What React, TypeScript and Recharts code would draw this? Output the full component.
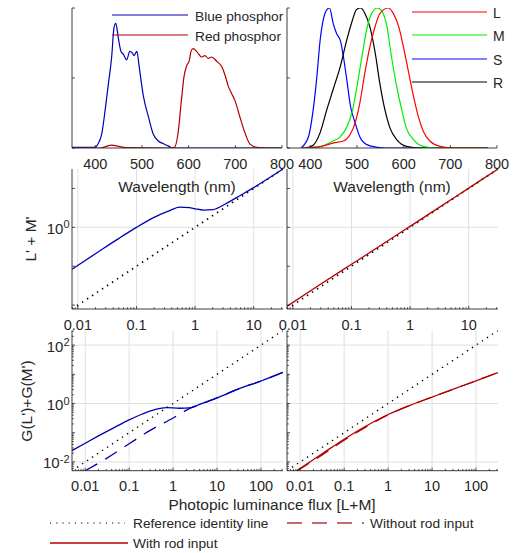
import React from "react";
import { LineChart, Line, XAxis, YAxis, ReferenceLine } from "recharts";

const W = 516;
const H = 553;
const INK = "#262626";
const GRID = "#e0e0e0";
const FONT = "'Liberation Sans', Arial, Helvetica, sans-serif";
const DARK_BLUE = "#0000b3";
const DARK_RED = "#b30000";
const DASHES = "14 9";
const X_AXIS_H = 30;
const Y_AXIS_W = 50;

// ---- top left: phosphor emission spectra (wavelength in nm, relative power)
const bluePhosphorWl = [350, 370, 390, 400, 406, 414, 421, 428, 435, 440, 444, 449, 455, 460, 467, 474, 479, 483, 489, 494, 503, 514, 524, 535, 546, 556, 565, 600, 700, 800];
const bluePhosphor = [0.004, 0.005, 0.004, 0.006, 0.03, 0.105, 0.27, 0.46, 0.65, 0.86, 0.89, 0.79, 0.69, 0.67, 0.63, 0.69, 0.68, 0.66, 0.69, 0.58, 0.37, 0.22, 0.1, 0.05, 0.03, 0.015, 0, 0, 0, 0];
const redPhosphorWl = [350, 410, 420, 435, 450, 465, 560, 569, 577, 585, 590, 596, 601, 606, 610, 617, 628, 635, 642, 649, 660, 671, 678, 685, 692, 699, 710, 721, 731, 746, 770, 800];
const redPhosphor = [0, 0, 0.008, 0.02, 0.012, 0.002, 0, 0.003, 0.1, 0.36, 0.51, 0.59, 0.62, 0.7, 0.71, 0.69, 0.65, 0.66, 0.64, 0.65, 0.62, 0.58, 0.52, 0.44, 0.39, 0.34, 0.22, 0.105, 0.03, 0.005, 0, 0];

// ---- top right: photoreceptor sensitivities
const coneLWl = [380, 421, 449, 471, 485, 496, 506, 517, 528, 539, 549, 567, 578, 589, 599, 610, 621, 631, 642, 656, 678, 706, 780];
const coneL = [0, 0.01, 0.035, 0.05, 0.095, 0.18, 0.32, 0.54, 0.73, 0.87, 0.96, 1.0, 0.96, 0.87, 0.73, 0.55, 0.37, 0.23, 0.12, 0.05, 0.012, 0, 0];
const coneMWl = [380, 421, 449, 464, 478, 489, 499, 510, 521, 531, 544, 553, 564, 574, 585, 596, 606, 621, 642, 671, 780];
const coneM = [0, 0.01, 0.05, 0.08, 0.15, 0.25, 0.42, 0.64, 0.85, 0.96, 1.0, 0.98, 0.87, 0.65, 0.44, 0.27, 0.14, 0.06, 0.012, 0, 0];
const coneSWl = [380, 396, 406, 414, 421, 428, 436, 441, 449, 456, 465, 471, 478, 486, 496, 506, 521, 543, 564, 780];
const coneS = [0, 0.08, 0.27, 0.51, 0.77, 0.92, 0.99, 1.0, 0.89, 0.82, 0.76, 0.65, 0.49, 0.3, 0.18, 0.08, 0.024, 0.005, 0, 0];
const rodWl = [380, 392, 406, 421, 435, 449, 464, 478, 489, 499, 508, 517, 528, 539, 549, 560, 571, 585, 606, 635, 780];
const rod = [0, 0.003, 0.02, 0.11, 0.27, 0.42, 0.58, 0.77, 0.9, 0.99, 1.0, 0.96, 0.86, 0.68, 0.46, 0.27, 0.14, 0.06, 0.012, 0, 0];

// ---- middle row: L' + M' against photopic flux
const midIdentity = [0.00794, 31.62];
const midBlueFlux = [0.00794, 0.02, 0.05, 0.1, 0.2, 0.35, 0.55, 0.8, 1.0, 1.4, 2.0, 3.5, 6, 10, 20, 31.62];
const midBlue = [0.084, 0.21, 0.52, 1.0, 1.8, 2.6, 3.3, 3.2, 3.0, 2.78, 2.85, 4.2, 6.7, 10.5, 20.2, 31.62];
const midRedFlux = [0.00794, 0.03, 0.1, 0.3, 1, 3, 10, 31.62];
const midRed = [0.0093, 0.035, 0.112, 0.325, 1.06, 3.12, 10.2, 31.62];

// ---- bottom row: G(L') + G(M')
const lowIdentity = [0.00501, 316.2];
const lowBlueFlux = [0.00501, 0.01, 0.02, 0.05, 0.1, 0.2, 0.4, 0.7, 1.4, 2.6, 4, 10, 30, 100, 316.2];
const lowBlue = [0.0245, 0.0437, 0.0776, 0.162, 0.275, 0.437, 0.63, 0.72, 0.69, 0.72, 0.93, 1.55, 3.1, 5.9, 11.7];
const lowBlueNoRodFlux = [0.01, 0.03, 0.1, 0.3, 1, 2.6, 4, 10, 30, 100, 316.2];
const lowBlueNoRod = [0.005, 0.013, 0.042, 0.12, 0.32, 0.72, 0.93, 1.55, 3.1, 5.9, 11.7];
const lowRedFlux = [0.0083, 0.0316, 0.1, 0.316, 1, 3.16, 10, 31.6, 100, 316.2];
const lowRed = [0.005, 0.019, 0.06, 0.17, 0.42, 0.87, 1.66, 3.16, 6.0, 11.5];
const lowRedNoRodFlux = [0.0086, 0.0316, 0.1, 0.316, 1, 3.16, 10, 31.6, 100, 316.2];
const lowRedNoRod = [0.005, 0.0175, 0.055, 0.158, 0.41, 0.87, 1.66, 3.16, 6.0, 11.5];

const wavelengthTicks = [400, 500, 600, 700, 800];
const unitTicks = [0, 0.5, 1];
const fluxLabels = [0.01, 0.1, 1, 10, 100];

const pairs = (xs: number[], ys: number[]) => xs.map((x, i) => ({ x, y: ys[i] }));

const isDecade = (v: number) => Math.abs(Math.log10(v) - Math.round(Math.log10(v))) < 1e-6;

// every 1..9 x 10^k inside the range, for MATLAB-style minor ticks
const logTicks = (lo: number, hi: number) => {
  const out: number[] = [];
  for (let k = -3; k <= 3; k++) {
    for (let m = 1; m <= 9; m++) {
      const v = Number((m * Math.pow(10, k)).toPrecision(3));
      if (v >= lo && v <= hi) out.push(v);
    }
  }
  return out;
};
const decadeTicks = (lo: number, hi: number) => logTicks(lo, hi).filter(isDecade);

type Box = { l: number; r: number; t: number; b: number };

const BOX: Record<string, Box> = {
  tl: { l: 72, r: 282, t: 8, b: 148 },
  tr: { l: 287, r: 497, t: 8, b: 148 },
  ml: { l: 72, r: 283, t: 169, b: 309 },
  mr: { l: 287, r: 498, t: 169, b: 309 },
  bl: { l: 72, r: 283, t: 330.5, b: 470.7 },
  br: { l: 287, r: 498, t: 330.5, b: 470.7 },
};

const xTick = (log: boolean, labels: boolean) => (p: any) => {
  const v = p.payload.value as number;
  const major = !log || isDecade(v);
  return (
    <g>
      <line x1={p.x} x2={p.x} y1={p.y} y2={p.y - (major ? 3 : 1.8)} stroke={INK} strokeWidth={0.8} />
      {labels && major ? (
        <text x={p.x} y={p.y + 20.5} textAnchor="middle" fontFamily={FONT} fontSize={14.5} fill={INK}>
          {String(v)}
        </text>
      ) : null}
    </g>
  );
};

const yTick = (log: boolean, labels: number[]) => (p: any) => {
  const v = p.payload.value as number;
  const major = !log || isDecade(v);
  return (
    <g>
      <line x1={p.x} x2={p.x + (major ? 3 : 1.8)} y1={p.y} y2={p.y} stroke={INK} strokeWidth={0.8} />
      {labels.includes(v) ? (
        <text x={p.x - 2.5} y={p.y + 6.5} textAnchor="end" fontFamily={FONT} fontSize={15} fill={INK}>
          10
          <tspan dy={-5.5} fontSize={11}>
            {Math.round(Math.log10(v))}
          </tspan>
        </text>
      ) : null}
    </g>
  );
};

function Panel(props: {
  box: Box;
  xDomain: [number, number];
  yDomain: [number, number];
  log?: boolean;
  xTicks: number[];
  yTicks: number[];
  xLabels: boolean;
  yLabels: number[];
  gridX?: number[];
  gridY?: number[];
  children: React.ReactNode;
}) {
  const { box, log = false } = props;
  const scale = log ? "log" : "linear";
  return (
    <div style={{ position: "absolute", left: 0, top: 0 }}>
      <LineChart
        width={W}
        height={H}
        margin={{ left: box.l - Y_AXIS_W, top: box.t, right: W - box.r, bottom: H - box.b - X_AXIS_H }}
      >
        <XAxis
          type="number"
          dataKey="x"
          scale={scale}
          domain={props.xDomain}
          allowDataOverflow
          ticks={props.xTicks}
          interval={0}
          height={X_AXIS_H}
          tickSize={0}
          tickMargin={0}
          tickLine={false}
          axisLine={{ stroke: INK, strokeWidth: 0.9 }}
          tick={xTick(log, props.xLabels)}
        />
        <YAxis
          type="number"
          dataKey="y"
          scale={scale}
          domain={props.yDomain}
          allowDataOverflow
          ticks={props.yTicks}
          interval={0}
          width={Y_AXIS_W}
          tickSize={0}
          tickMargin={0}
          tickLine={false}
          axisLine={{ stroke: INK, strokeWidth: 0.9 }}
          tick={yTick(log, props.yLabels)}
        />
        {(props.gridX || []).map((v) => (
          <ReferenceLine key={"gx" + v} x={v} stroke={GRID} strokeWidth={1} zIndex={-50} />
        ))}
        {(props.gridY || []).map((v) => (
          <ReferenceLine key={"gy" + v} y={v} stroke={GRID} strokeWidth={1} zIndex={-50} />
        ))}
        {props.children}
      </LineChart>
    </div>
  );
}

const series = (key: string, data: { x: number; y: number }[], stroke: string, extra: any = {}) => (
  <Line
    key={key}
    data={data}
    dataKey="y"
    type="monotone"
    stroke={stroke}
    strokeWidth={1.2}
    dot={false}
    activeDot={false}
    isAnimationActive={false}
    {...extra}
  />
);

const dotted = (key: string, pts: number[], width: number) =>
  series(key, pairs(pts, pts), "#000", { type: "linear", strokeDasharray: "1.4 4.6", strokeWidth: width });

export default function App() {
  const midDomain: [number, number] = [midIdentity[0], midIdentity[1]];
  const lowDomain: [number, number] = [lowIdentity[0], lowIdentity[1]];
  const midX = logTicks(midDomain[0], midDomain[1]);
  const midY = decadeTicks(midDomain[0], midDomain[1]);
  const lowX = logTicks(lowDomain[0], lowDomain[1]);
  const lowY = logTicks(lowDomain[0], lowDomain[1]);
  const midGridX = fluxLabels.filter((v) => v >= midDomain[0] && v <= midDomain[1]);
  const lowGridY = [0.01, 1, 100];
  const txt = { fontFamily: FONT, fill: INK };

  return (
    <div style={{ position: "absolute", left: 0, top: 0, width: W, height: H, background: "#fff" }}>
      <Panel box={BOX.tl} xDomain={[350, 800]} yDomain={[0, 1]} xTicks={wavelengthTicks} yTicks={unitTicks} xLabels yLabels={[]}>
        {series("bp", pairs(bluePhosphorWl, bluePhosphor), DARK_BLUE)}
        {series("rp", pairs(redPhosphorWl, redPhosphor), DARK_RED)}
      </Panel>
      <Panel box={BOX.tr} xDomain={[350, 800]} yDomain={[0, 1]} xTicks={wavelengthTicks} yTicks={unitTicks} xLabels yLabels={[]}>
        {series("s", pairs(coneSWl, coneS), "#0000ff")}
        {series("r", pairs(rodWl, rod), "#000000")}
        {series("m", pairs(coneMWl, coneM), "#00ee00")}
        {series("l", pairs(coneLWl, coneL), "#ff0000")}
      </Panel>
      <Panel box={BOX.ml} log xDomain={midDomain} yDomain={midDomain} xTicks={midX} yTicks={midY} xLabels yLabels={[1]} gridX={midGridX} gridY={[1]}>
        {dotted("id", midIdentity, 1.7)}
        {series("mb", pairs(midBlueFlux, midBlue), DARK_BLUE, { strokeWidth: 1.3 })}
      </Panel>
      <Panel box={BOX.mr} log xDomain={midDomain} yDomain={midDomain} xTicks={midX} yTicks={midY} xLabels yLabels={[]} gridX={midGridX} gridY={[1]}>
        {dotted("id", midIdentity, 1.7)}
        {series("mr", pairs(midRedFlux, midRed), DARK_RED, { strokeWidth: 1.3 })}
      </Panel>
      <Panel box={BOX.bl} log xDomain={lowDomain} yDomain={lowDomain} xTicks={lowX} yTicks={lowY} xLabels yLabels={lowGridY} gridX={fluxLabels} gridY={lowGridY}>
        {dotted("id", lowIdentity, 1.3)}
        {series("bd", pairs(lowBlueNoRodFlux, lowBlueNoRod), DARK_BLUE, { strokeDasharray: DASHES, strokeWidth: 1.3 })}
        {series("bs", pairs(lowBlueFlux, lowBlue), DARK_BLUE, { strokeWidth: 1.3 })}
      </Panel>
      <Panel box={BOX.br} log xDomain={lowDomain} yDomain={lowDomain} xTicks={lowX} yTicks={lowY} xLabels yLabels={[]} gridX={fluxLabels} gridY={lowGridY}>
        {dotted("id", lowIdentity, 1.3)}
        {series("rd", pairs(lowRedNoRodFlux, lowRedNoRod), DARK_RED, { strokeDasharray: DASHES, strokeWidth: 1.3 })}
        {series("rs", pairs(lowRedFlux, lowRed), DARK_RED, { strokeWidth: 1.3 })}
      </Panel>

      <svg width={W} height={H} style={{ position: "absolute", left: 0, top: 0 }}>
        {/* phosphor legend */}
        <line x1={112} x2={188} y1={15} y2={15} stroke={DARK_BLUE} strokeWidth={1.2} />
        <text x={195} y={21} fontSize={13.7} {...txt}>Blue phosphor</text>
        <line x1={112} x2={188} y1={35} y2={35} stroke={DARK_RED} strokeWidth={1.2} />
        <text x={195} y={41} fontSize={13.7} {...txt}>Red phosphor</text>

        {/* photoreceptor legend */}
        <line x1={412} x2={487} y1={12} y2={12} stroke="#ff0000" strokeWidth={1.2} />
        <text x={493} y={18} fontSize={14} {...txt}>L</text>
        <line x1={412} x2={487} y1={35} y2={35} stroke="#00ee00" strokeWidth={1.2} />
        <text x={493} y={41} fontSize={14} {...txt}>M</text>
        <line x1={412} x2={487} y1={59} y2={59} stroke="#0000ff" strokeWidth={1.2} />
        <text x={493} y={65} fontSize={14} {...txt}>S</text>
        <line x1={412} x2={487} y1={82} y2={82} stroke="#000000" strokeWidth={1.2} />
        <text x={493} y={88} fontSize={14} {...txt}>R</text>

        {/* axis titles */}
        <text x={177} y={191.5} textAnchor="middle" fontSize={15.5} {...txt}>Wavelength (nm)</text>
        <text x={392} y={191.5} textAnchor="middle" fontSize={15.5} {...txt}>Wavelength (nm)</text>
        <text x={36} y={239} textAnchor="middle" fontSize={15.5} transform="rotate(-90 36 239)" {...txt}>L' + M'</text>
        <text x={32} y={401} textAnchor="middle" fontSize={15.5} transform="rotate(-90 32 401)" {...txt}>G(L')+G(M')</text>
        <text x={272} y={510} textAnchor="middle" fontSize={15.5} {...txt}>Photopic luminance flux [L+M]</text>

        {/* bottom legend */}
        <line x1={50} x2={125} y1={523} y2={523} stroke="#000" strokeWidth={1.2} strokeDasharray="1.2 5" />
        <text x={133} y={528} fontSize={13.7} {...txt}>Reference identity line</text>
        <line x1={287} x2={364} y1={523} y2={523} stroke="#b33a3a" strokeWidth={1.4} strokeDasharray="15 10" />
        <text x={370} y={528} fontSize={13.7} {...txt}>Without rod input</text>
        <line x1={50} x2={128} y1={543} y2={543} stroke={DARK_RED} strokeWidth={1.3} />
        <text x={133} y={548} fontSize={13.7} {...txt}>With rod input</text>
      </svg>
    </div>
  );
}
